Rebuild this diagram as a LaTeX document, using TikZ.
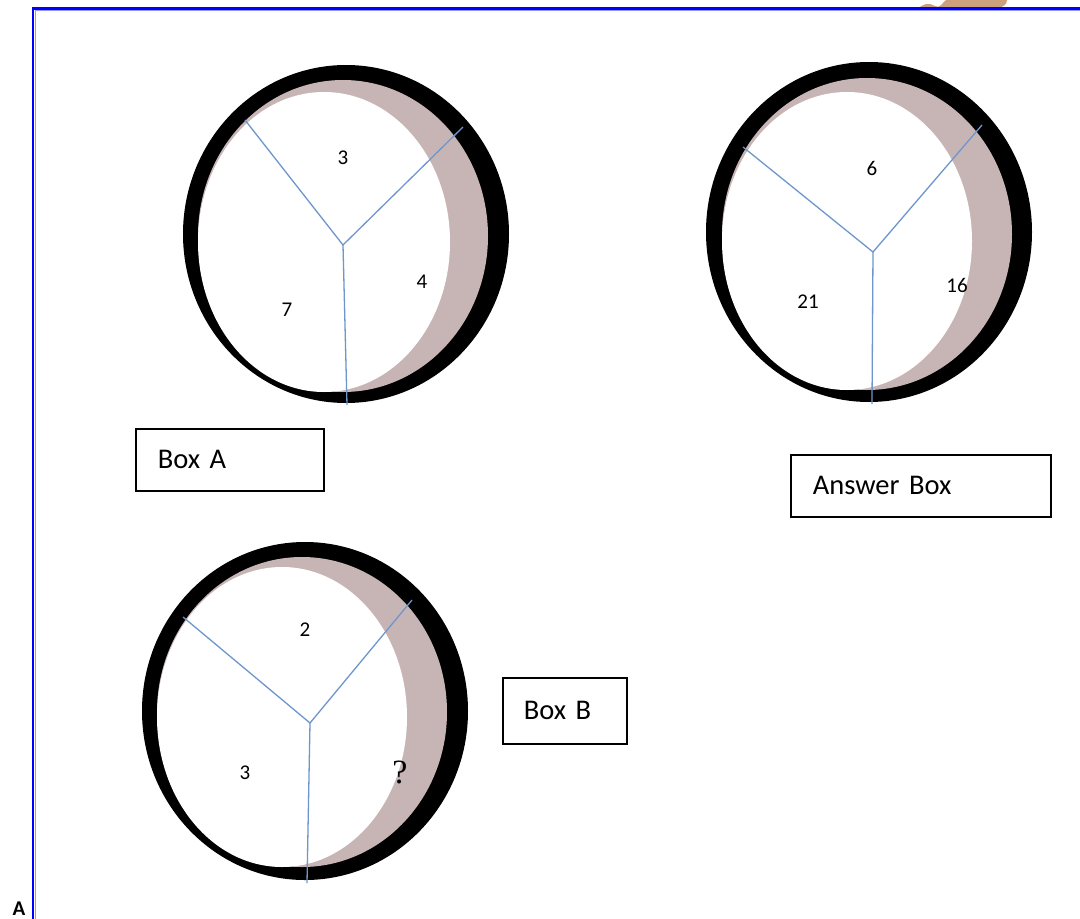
\documentclass[tikz,border=0pt]{standalone}
\usepackage{fontspec}
\setmainfont{Carlito}
\newfontfamily\serifq{Liberation Serif}
\usepackage{tikz}
\usetikzlibrary{positioning}
\usepackage{xcolor}
\definecolor{bleu}{RGB}{0,0,255}
\definecolor{bleupale}{RGB}{150,150,255}
\definecolor{rayonbleu}{RGB}{110,150,205}
\definecolor{brun}{RGB}{199,181,181}
\definecolor{tache}{RGB}{205,160,125}

\tikzset{
  anneau/.style={fill=black},
  croissant/.style={fill=brun},
  blanc/.style={fill=white},
  rayon/.style={draw=rayonbleu, line width=1.3pt},
  chiffre/.style={font=\fontsize{21}{23}\selectfont},
  boite/.style={draw=black, line width=1.6pt, inner xsep=22pt, align=left,
                minimum height=62pt, anchor=north west,
                font=\fontsize{28.5}{30}\selectfont}
}

\begin{document}
\begin{tikzpicture}[x=1pt, y=-1pt]

				\useasboundingbox[fill=white] (0,0) rectangle (1080,919);

				% Tache en haut
				\fill[tache] (918,10) .. controls (920,4) and (930,2) .. (935,6)
				  .. controls (940,9) and (942,3) .. (946,0) -- (1007,0)
				  .. controls (1008,5) and (1000,9) .. (990,9) -- (918,10);

				% Cadre
				\draw[bleupale, line width=1pt] (35,919) -- (35,10.5) -- (1080,10.5);
				\draw[bleu, line width=2.2pt] (33,919) -- (33,8.5) -- (1080,8.5);
				\node[anchor=base, inner sep=0pt, font=\fontsize{21}{22}\selectfont\bfseries] (lettre) at (19,915.5) {A};

				% Cercle A
				\fill[anneau]    (346,234) ellipse [x radius=163pt, y radius=169pt];
				\fill[croissant] (343,236) ellipse [x radius=145pt, y radius=156pt];
				\fill[blanc]     (324,242) ellipse [x radius=126pt, y radius=150pt];
				\coordinate (A-c) at (343,245);
				\coordinate (A-g) at (245,120);
				\coordinate (A-d) at (463,127);
				\coordinate (A-b) at (347,405);
				\draw[rayon] (A-g) -- (A-c) -- (A-d);
				\draw[rayon] (A-c) -- (A-b);
				\node[chiffre] (A-haut)   at (343,158) {3};
				\node[chiffre] (A-droite) at (422,282) {4};
				\node[chiffre] (A-gauche) at (287,310) {7};

				% Cercle reponse
				\fill[anneau]    (869,232) ellipse [x radius=163pt, y radius=170pt];
				\fill[croissant] (867,234) ellipse [x radius=145pt, y radius=156pt];
				\fill[blanc]     (847,241) ellipse [x radius=125pt, y radius=149pt];
				\coordinate (R-c) at (873,252);
				\coordinate (R-g) at (743,147);
				\coordinate (R-d) at (982,125);
				\coordinate (R-b) at (872,404);
				\draw[rayon] (R-g) -- (R-c) -- (R-d);
				\draw[rayon] (R-c) -- (R-b);
				\node[chiffre] (R-haut)   at (872,168) {6};
				\node[chiffre] (R-droite) at (957,285) {16};
				\node[chiffre] (R-gauche) at (808,302) {21};

				% Cercle B
				\fill[anneau]    (305,711) ellipse [x radius=163pt, y radius=169pt];
				\fill[croissant] (302,712) ellipse [x radius=145pt, y radius=155pt];
				\fill[blanc]     (282,717) ellipse [x radius=125pt, y radius=150pt];
				\coordinate (B-c) at (310,723);
				\coordinate (B-g) at (183,617);
				\coordinate (B-d) at (412,600);
				\coordinate (B-b) at (307,883);
				\draw[rayon] (B-g) -- (B-c) -- (B-d);
				\draw[rayon] (B-c) -- (B-b);
				\node[chiffre] (B-haut)   at (305,630) {2};
				\node[chiffre] (B-gauche) at (245,773) {3};
				\node[font=\fontsize{34}{36}\selectfont\serifq] (B-droite) at (400,772) {?};

				% Boites
				\node[boite, text width=144pt] (boxA) at (135,428) {Box A};
				\node[boite, text width=216pt] (boxR) at (790,454) {Answer Box};
				\node[boite, text width=82pt, minimum height=66pt, inner xsep=21pt] (boxB) at (502,677) {Box B};

\end{tikzpicture}
\end{document}
